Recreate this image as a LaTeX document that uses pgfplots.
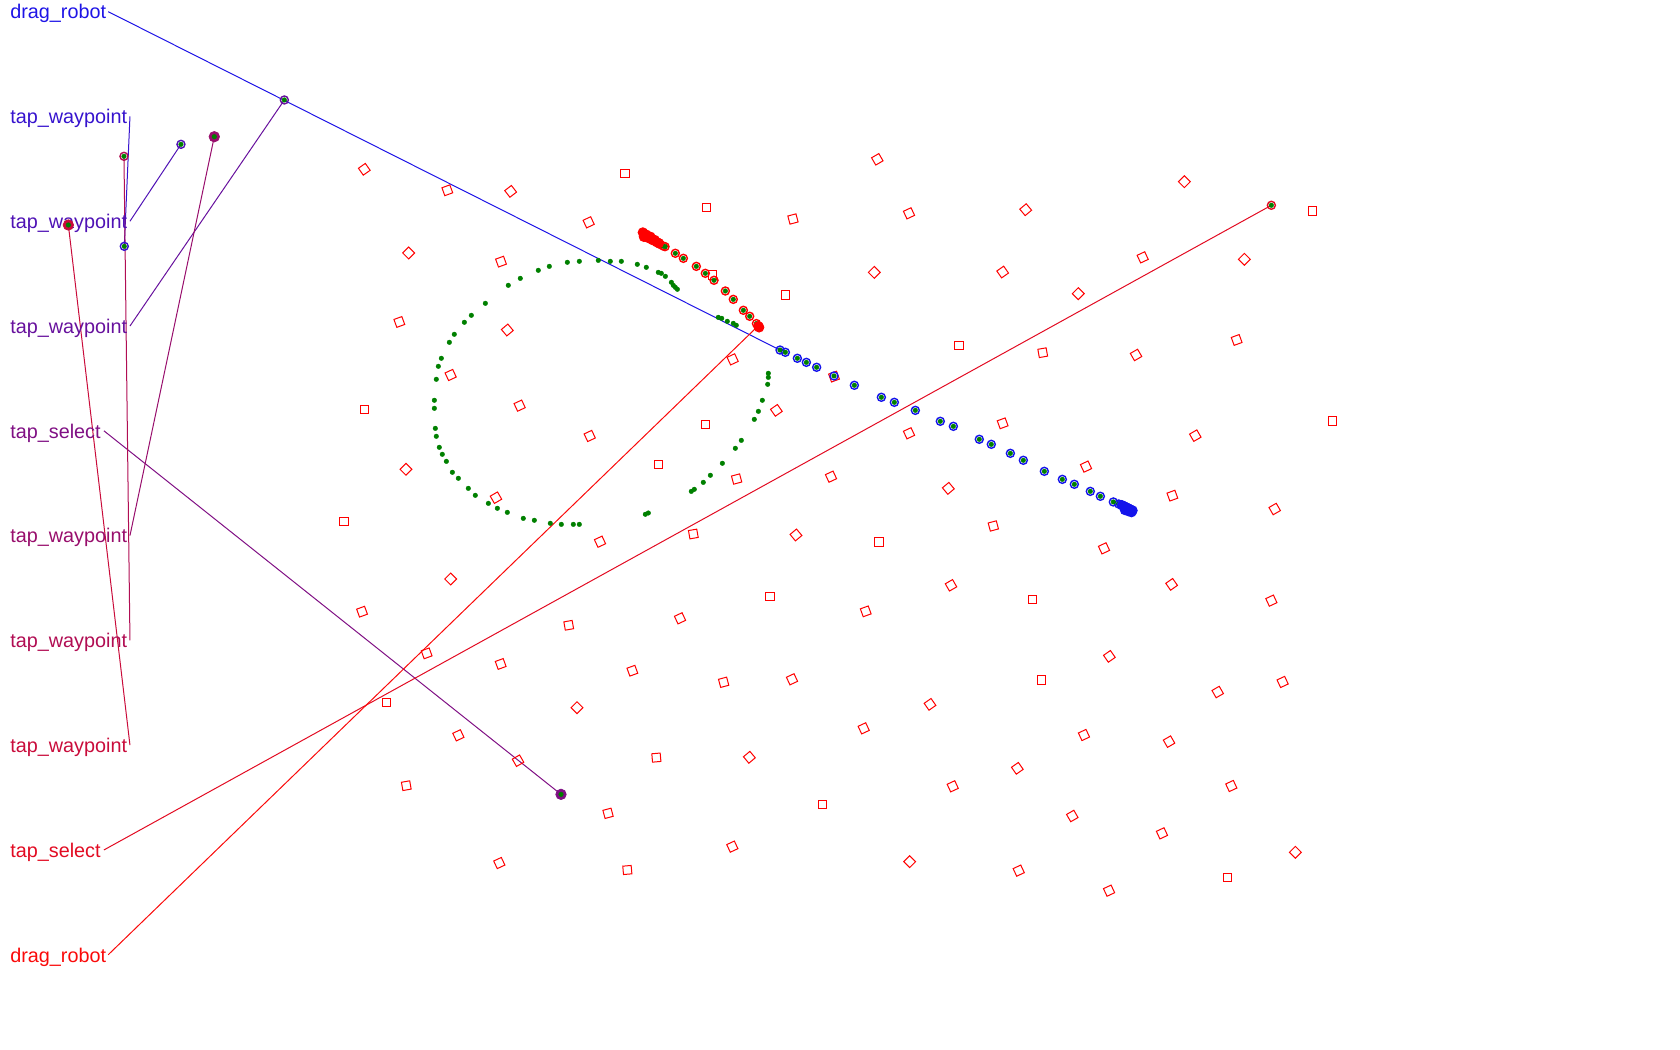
\documentclass[border=0pt]{standalone}
\usepackage{pgfplots}
\pgfplotsset{compat=1.18}
\usepackage{fontspec}
\setmainfont{Liberation Sans}
\definecolor{c0}{RGB}{30,20,230}
\definecolor{c1}{RGB}{54,19,206}
\definecolor{c2}{RGB}{79,18,181}
\definecolor{c3}{RGB}{103,17,157}
\definecolor{c4}{RGB}{128,16,132}
\definecolor{c5}{RGB}{152,14,108}
\definecolor{c6}{RGB}{177,13,83}
\definecolor{c7}{RGB}{201,12,59}
\definecolor{c8}{RGB}{226,11,34}
\definecolor{c9}{RGB}{250,10,10}
\definecolor{dgreen}{RGB}{0,128,0}
\definecolor{rred}{RGB}{255,0,0}
\definecolor{bblue}{RGB}{20,20,235}
\pgfplotstableread{
x y r
340.0 158.0 35
417.5 177.6 20
476.6 178.6 38
583.3 161.8 0
549.4 207.5 25
381.4 236.1 45
467.6 244.2 20
659.2 193.5 0
740.1 204.4 15
372.7 300.5 20
473.5 308.0 40
665.1 256.7 0
733.3 275.3 0
420.6 350.0 25
683.8 335.4 25
340.4 382.0 0
485.0 378.6 25
724.6 383.0 35
658.3 396.0 0
550.4 406.9 25
378.9 438.0 45
614.4 433.4 0
687.5 447.1 15
462.9 464.5 30
321.1 486.9 0
818.8 148.7 30
1105.4 169.6 45
848.4 199.1 25
957.3 195.7 40
1224.8 196.9 0
816.0 254.2 45
935.8 253.9 35
1066.5 240.2 25
1161.4 242.0 45
1006.4 274.1 45
895.1 322.3 0
973.2 329.2 10
1060.3 331.3 30
1154.2 317.3 20
1243.8 392.9 0
778.4 351.5 20
848.4 404.4 25
935.8 395.1 20
1115.6 406.6 30
1013.6 435.5 25
885.1 455.8 40
1094.2 462.6 20
1189.7 475.1 30
927.1 490.9 15
775.6 444.9 25
560.0 505.6 25
647.1 498.4 10
742.9 499.3 40
420.6 540.4 45
337.9 570.9 20
718.7 556.6 0
530.8 583.6 10
634.7 577.1 25
398.2 609.8 20
467.3 619.7 20
590.2 626.0 20
675.4 636.8 15
739.2 634.0 25
360.6 655.5 0
538.5 660.5 45
427.8 686.3 25
483.5 710.0 30
612.6 707.1 5
699.4 706.8 40
379.2 733.3 10
567.5 759.1 15
767.8 750.7 0
683.5 790.2 25
466.0 805.5 25
585.5 812.0 5
820.4 505.9 0
1030.4 511.8 25
887.6 546.3 30
808.0 570.6 20
963.5 559.4 0
1093.5 545.4 35
1186.6 560.6 25
1035.4 612.6 35
971.9 634.7 0
868.0 657.4 35
1136.5 645.9 30
1197.1 636.5 25
806.1 679.8 25
1011.7 686.0 25
1091.1 692.2 30
949.5 717.1 35
889.2 733.9 25
1149.2 733.6 25
1000.8 761.6 30
1084.5 777.8 25
849.0 804.2 45
950.8 812.6 25
1209.0 795.5 45
1145.5 818.8 0
1035.1 831.3 25
}\landmarks
\pgfplotstableread{
x y
474.4 266.3
485.6 259.8
502.4 252.3
512.7 248.6
529.5 244.8
540.7 243.9
558.4 243.0
569.6 243.9
579.9 243.9
594.8 246.7
603.2 249.5
614.4 254.2
617.2 255.1
621.0 257.9
626.6 263.5
628.4 266.3
630.3 268.2
632.2 270.0
453.0 283.1
439.9 294.3
433.4 300.8
424.0 312.0
419.4 319.5
411.9 334.4
409.1 341.9
407.2 354.0
405.4 373.6
405.4 381.1
406.3 399.8
407.2 407.2
410.0 417.5
412.8 424.0
416.6 430.6
422.2 440.8
427.8 446.4
437.1 455.8
443.6 462.3
455.8 469.8
464.2 474.4
473.5 478.2
488.4 483.8
498.7 485.6
513.6 488.4
523.9 489.4
535.1 489.4
540.7 489.4
602.3 480.0
605.1 478.8
645.2 458.6
648.0 456.7
656.4 450.2
663.0 443.6
674.2 432.4
686.3 418.4
691.9 411.0
704.0 391.4
707.8 383.9
711.5 373.6
716.5 358.7
717.1 352.2
717.1 348.4
670.4 296.2
673.6 297.1
678.8 299.9
684.4 301.8
687.2 303.6
}\arcdots
\pgfplotstableread{
x y
616.0 228.0
619.0 229.6
620.7 230.2
630.3 236.4
637.8 241.1
649.9 248.6
658.3 255.1
666.4 261.6
677.0 271.6
684.4 279.4
693.8 289.6
699.7 295.2
706.0 302.0
}\redtraj
\pgfplotstableread{
x y
600.0 217.0
601.0 221.0
603.0 219.0
605.0 222.0
607.0 221.0
609.0 224.0
611.0 224.0
613.0 226.0
615.0 227.0
707.8 304.5
708.5 305.5
}\redblob
\pgfplotstableread{
x y
728.0 326.7
733.0 328.8
744.2 334.4
752.6 338.2
762.2 342.8
778.4 350.9
797.4 359.6
822.6 370.8
834.7 375.5
854.3 383.0
877.6 393.2
889.8 397.9
914.0 410.0
925.2 414.7
943.0 423.1
955.1 429.6
974.7 439.9
991.5 447.4
1002.7 452.0
1017.6 458.6
1027.0 463.2
1039.1 468.5
1044.1 470.4
}\bluetraj
\pgfplotstableread{
x y
1047 471.5
1049 472.5
1051 473.5
1053 474.5
1055 475.5
1057 476.5
1053 477.0
1056 478.0
1050 476.0
}\blueblob
\begin{document}
\begin{tikzpicture}
\begin{axis}[
  scale only axis, width=840pt, height=525pt,
  xmin=0, xmax=1568, ymin=0, ymax=980, y dir=reverse,
  hide axis, clip=false,
]
\path (rel axis cs:0,0) rectangle (rel axis cs:1,1);
% landmarks
\addplot[only marks, mark=square, mark size=2.1pt, rred, mark options={line width=0.5pt},
  scatter, point meta=explicit,
  visualization depends on={\thisrow{r}\as\rot},
  scatter/@pre marker code/.code={\pgfscope\pgftransformrotate{\rot}},
  scatter/@post marker code/.code={\endpgfscope}]
  table[x=x, y=y, meta=r] {\landmarks};
% label lines
\addplot[c0, line width=0.5pt, no marks] coordinates {(101,10.9) (728,326.7)};
\addplot[c1, line width=0.5pt, no marks] coordinates {(121.3,108.7) (116,229.9)};
\addplot[c2, line width=0.5pt, no marks] coordinates {(121.3,206.5) (168.9,134.7)};
\addplot[c3, line width=0.5pt, no marks] coordinates {(121.3,304.3) (265.4,93.3)};
\addplot[c4, line width=0.5pt, no marks] coordinates {(97,402.1) (523.6,741.4)};
\addplot[c5, line width=0.5pt, no marks] coordinates {(121.3,499.9) (200,127.6)};
\addplot[c6, line width=0.5pt, no marks] coordinates {(121.3,597.7) (115.7,145.9)};
\addplot[c7, line width=0.5pt, no marks] coordinates {(121.3,695.5) (63.8,210)};
\addplot[c8, line width=0.5pt, no marks] coordinates {(97,793.3) (1186.6,191.6)};
\addplot[c9, line width=0.5pt, no marks] coordinates {(101,891.1) (707.8,304)};
% end circles of taps
\addplot[only marks, mark=o, mark size=2.0pt, c1, mark options={line width=0.7pt}] coordinates {(116,229.9)};
\addplot[only marks, mark=o, mark size=2.0pt, c2, mark options={line width=0.7pt}] coordinates {(168.9,134.7)};
\addplot[only marks, mark=o, mark size=2.0pt, c3, mark options={line width=0.7pt}] coordinates {(265.4,93.3)};
\addplot[only marks, mark=*, mark size=2.6pt, c4, mark options={fill=c4}] coordinates {(523.6,741.4)};
\addplot[only marks, mark=*, mark size=2.6pt, c5, mark options={fill=c5}] coordinates {(200,127.6)};
\addplot[only marks, mark=o, mark size=2.0pt, c6, mark options={line width=0.7pt}] coordinates {(115.7,145.9)};
\addplot[only marks, mark=*, mark size=2.6pt, c7, mark options={fill=c7}] coordinates {(63.8,210)};
\addplot[only marks, mark=o, mark size=2.0pt, c8, mark options={line width=0.7pt}] coordinates {(1186.6,191.6)};
% trajectories
\addplot[only marks, mark=o, mark size=2.0pt, rred, mark options={line width=0.7pt}] table {\redtraj};
\addplot[only marks, mark=o, mark size=2.0pt, bblue, mark options={line width=0.7pt}] table {\bluetraj};
% green dots
\addplot[only marks, mark=*, mark size=1.15pt, dgreen, mark options={line width=0.2pt}] table {\arcdots};
\addplot[only marks, mark=*, mark size=1.15pt, dgreen, mark options={line width=0.2pt}] table {\redtraj};
\addplot[only marks, mark=*, mark size=1.15pt, dgreen, mark options={line width=0.2pt}] table {\bluetraj};
\addplot[only marks, mark=*, mark size=1.15pt, dgreen, mark options={line width=0.2pt}] coordinates {(116,229.9) (168.9,134.7) (265.4,93.3) (523.6,741.4) (200,127.6) (115.7,145.9) (63.8,210) (1186.6,191.6)};
% blobs
\addplot[only marks, mark=*, mark size=2.4pt, rred, mark options={fill=rred}] table {\redblob};
\addplot[only marks, mark=*, mark size=2.4pt, bblue, mark options={fill=bblue}] table {\blueblob};
% labels
\begin{scope}[every node/.style={anchor=base west, inner sep=0pt, font=\fontsize{9.9}{12}\selectfont}]
\node[text=c0] at (axis cs:9.3,17.7) {drag\_robot};
\node[text=c1] at (axis cs:9.3,115.5) {tap\_waypoint};
\node[text=c2] at (axis cs:9.3,213.3) {tap\_waypoint};
\node[text=c3] at (axis cs:9.3,311.1) {tap\_waypoint};
\node[text=c4] at (axis cs:9.3,408.9) {tap\_select};
\node[text=c5] at (axis cs:9.3,506.7) {tap\_waypoint};
\node[text=c6] at (axis cs:9.3,604.5) {tap\_waypoint};
\node[text=c7] at (axis cs:9.3,702.3) {tap\_waypoint};
\node[text=c8] at (axis cs:9.3,800.1) {tap\_select};
\node[text=c9] at (axis cs:9.3,897.9) {drag\_robot};
\end{scope}
\end{axis}
\end{tikzpicture}
\end{document}
